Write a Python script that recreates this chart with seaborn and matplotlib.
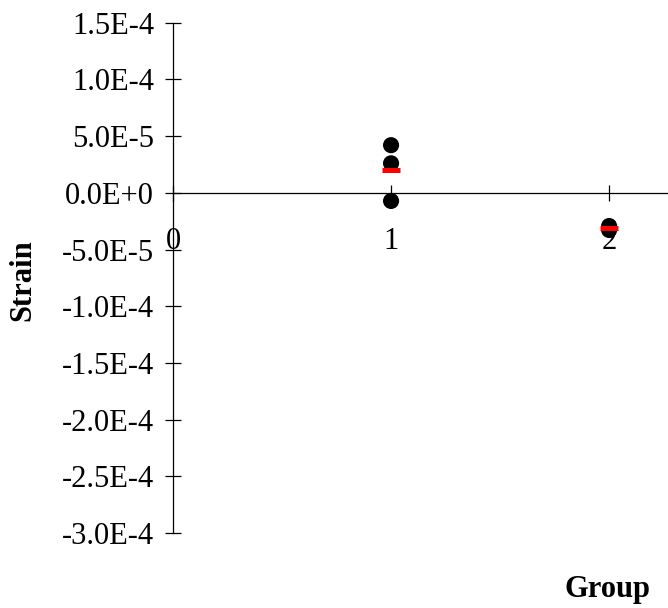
import numpy as np
import pandas as pd
import matplotlib
matplotlib.use("Agg")
import matplotlib.pyplot as plt
import seaborn as sns

# valores
group = [1, 1, 1, 2, 2]
strain = [4.2e-5, 2.6e-5, -0.72e-5, -2.93e-5, -3.28e-5]
y_ticks = [1.5e-4, 1.0e-4, 5.0e-5, 0.0, -5.0e-5, -1.0e-4, -1.5e-4, -2.0e-4, -2.5e-4, -3.0e-4]
x_ticks = [0, 1, 2]

df = pd.DataFrame({"Group": group, "Strain": strain})
means = df.groupby("Group")["Strain"].mean()

sns.set_style("white")
plt.rcParams["font.family"] = ["Liberation Serif", "DejaVu Serif"]

fig = plt.figure(figsize=(6.68, 6.08), dpi=100)
ax = fig.add_axes([173 / 668, (608 - 533) / 608, 495 / 668, (533 - 22.7) / 608])

sns.scatterplot(data=df, x="Group", y="Strain", color="black", s=135,
                edgecolor="none", ax=ax, zorder=3)

# média de cada grupo (traço vermelho)
ax.hlines(means.values, means.index - 0.042, means.index + 0.042,
          color="red", linewidth=3.6, zorder=4)

ax.set_xlim(0, 2.27)
ax.set_ylim(-3.0e-4, 1.5e-4)
ax.set_xticks(x_ticks)
ax.set_yticks(y_ticks)


def fmt(v):
    m, e = f"{v:.1E}".split("E")
    return f"{m}E{int(e):+d}"


ax.set_yticklabels([fmt(v) for v in y_ticks])
ax.set_xticklabels([str(v) for v in x_ticks])

ax.spines["top"].set_visible(False)
ax.spines["right"].set_visible(False)
ax.spines["left"].set_position(("data", 0))
ax.spines["bottom"].set_position(("data", 0))
for sp in ["left", "bottom"]:
    ax.spines[sp].set_color("black")
    ax.spines[sp].set_linewidth(0.9)

ax.tick_params(axis="both", which="major", left=True, bottom=True,
               direction="inout", length=11, width=0.9,
               color="black", labelsize=22, labelcolor="black")
ax.tick_params(axis="y", pad=8)
ax.tick_params(axis="x", pad=19)

ax.set_xlabel("")
ax.set_ylabel("")
fig.text(23 / 668, 1 - 280 / 608, "Strain", rotation=90, fontsize=22,
         fontweight="bold", ha="center", va="center", color="black")
fig.text(607 / 668, 1 - 589 / 608, "Group", fontsize=22,
         fontweight="bold", ha="center", va="center", color="black")

fig.savefig("out.png", dpi=100)
